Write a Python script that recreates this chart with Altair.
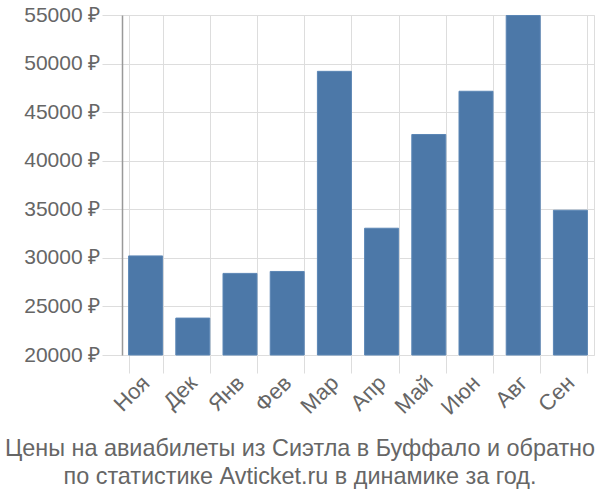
import altair as alt
import pandas as pd

months = ["Ноя", "Дек", "Янв", "Фев", "Мар", "Апр", "Май", "Июн", "Авг", "Сен"]
prices = [30200, 23800, 28400, 28600, 49200, 33050, 42700, 47150, 54950, 34900]
y_ticks = [20000, 25000, 30000, 35000, 40000, 45000, 50000, 55000]
title_lines = ["Цены на авиабилеты из Сиэтла в Буффало и обратно",
               "по статистике Avticket.ru в динамике за год."]

df = pd.DataFrame({"month": months, "price": prices, "base": [20000] * len(months)})

font = "Liberation Sans"
grid_c = "#dddddd"
text_c = "#666666"

chart = alt.Chart(df).mark_bar(color="#4c78a8", stroke="#5b86b5", strokeWidth=1).encode(
    x=alt.X("month:N", sort=months, title=None,
            scale=alt.Scale(paddingInner=0.28, paddingOuter=0.14),
            axis=alt.Axis(labelAngle=-45, labelAlign="right", labelBaseline="middle",
                          tickBand="extent", grid=True, gridColor=grid_c,
                          tickColor=grid_c, tickSize=18, domain=False,
                          labelFont=font, labelFontSize=22, labelColor=text_c,
                          labelPadding=6)),
    y=alt.Y("price:Q", title=None,
            scale=alt.Scale(domain=[20000, 55000], zero=False, nice=False),
            axis=alt.Axis(values=y_ticks, labelExpr="datum.value + ' ₽'",
                          gridColor=grid_c, tickColor=grid_c, tickSize=20,
                          domainColor="#999999", domainWidth=1.5,
                          labelFont=font, labelFontSize=21, labelColor=text_c,
                          labelPadding=2)),
    y2="base:Q",
).properties(
    width=472, height=340,
    autosize=alt.AutoSizeParams(type="none"),
    padding={"left": 122, "top": 15, "right": 6, "bottom": 145},
    title=alt.TitleParams(text=title_lines, orient="bottom", anchor="middle",
                          font=font, fontSize=23.4, fontWeight="normal", color=text_c,
                          lineHeight=28, offset=20, dx=-58),
).configure_view(stroke=grid_c)

chart.save("out.html", embed_options={"renderer": "svg", "actions": False})
